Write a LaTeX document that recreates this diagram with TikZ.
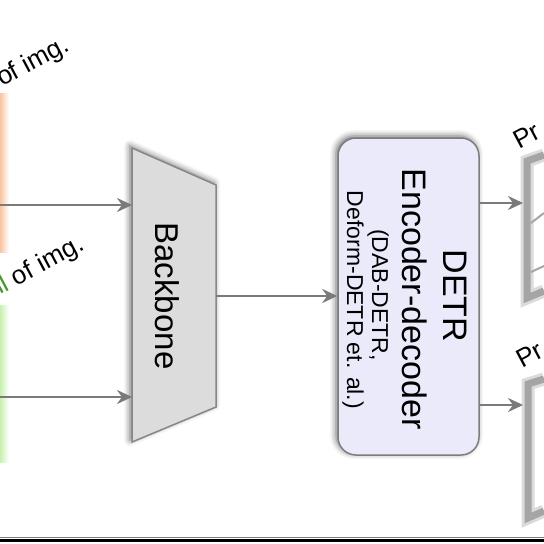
\documentclass[tikz,border=0pt]{standalone}
\usepackage{fontspec}
\setmainfont{Liberation Sans}
\usetikzlibrary{arrows.meta,shadows.blur}
\definecolor{arrgray}{RGB}{122,122,122}
\definecolor{bbfill}{RGB}{220,220,220}
\definecolor{bbdraw}{RGB}{135,135,135}
\definecolor{detrfill}{RGB}{235,234,250}
\definecolor{detrdraw}{RGB}{125,125,125}
\definecolor{imgorange}{RGB}{250,195,160}
\definecolor{imggreen}{RGB}{200,240,175}
\definecolor{txtgreen}{RGB}{70,150,40}
\definecolor{framegray}{RGB}{165,165,165}
\begin{document}
\begin{tikzpicture}[x=1pt,y=-1pt,
  arr/.style={draw=arrgray, line width=2.8pt, -{Stealth[length=15pt,width=14pt,inset=5pt,fill=arrgray]}},
  shad/.style={blur shadow={shadow xshift=-2pt, shadow yshift=2pt, shadow blur radius=6pt, shadow opacity=60}},
  bigtxt/.style={font=\fontsize{34}{40}\selectfont, inner sep=0pt},
  smalltxt/.style={font=\fontsize{23}{27}\selectfont, inner sep=0pt},
  slanttxt/.style={font=\fontsize{26}{30}\selectfont, inner sep=0pt, rotate=28, anchor=base west},
  framestyle/.style={draw=framegray, line width=7pt, line join=miter, preaction={draw=framegray!40, line width=13pt}},
]
\useasboundingbox (0,0) rectangle (544,544);
% coloured edges of the input images
\shade[left color=imgorange, right color=white] (0,93) rectangle (9,252);
\shade[left color=imggreen, right color=white] (0,305) rectangle (9,462);
% backbone
\filldraw[fill=bbfill, draw=bbdraw, line width=1.5pt, line join=miter, shad]
  (132,148) -- (216,185) -- (216,407) -- (132,442) -- cycle;
\coordinate (bbW) at (132,295);
\coordinate (bbE) at (216,296);
\node[font=\fontsize{33}{40}\selectfont, inner sep=0pt, rotate=-90] (bbtext) at (167.5,296) {Backbone};
% DETR box
\node[draw=detrdraw, fill=detrfill, line width=1.5pt, rounded corners=18pt,
      minimum width=141pt, minimum height=317pt, inner sep=0pt, shad] (detr) at (408.5,296.5) {};
\node[bigtxt, rotate=-90, anchor=base] (t1) at (443,296) {DETR};
\node[bigtxt, rotate=-90, anchor=base] (t2) at (402,299) {Encoder-decoder};
\node[smalltxt, rotate=-90, anchor=base] (t3) at (372,295) {(DAB-DETR,};
\node[smalltxt, rotate=-90, anchor=base] (t4) at (347,300) {Deform-DETR et. al.)};
% output frames
\draw[framestyle] (544,155) -- (527,161) -- (527,298) -- (544,291);
\draw[framegray, line width=2pt] (531,223) -- (544,213);
\draw[framegray, line width=2pt] (531,272) -- (544,266);
\draw[framestyle] (544,379) -- (528,384) -- (528,518) -- (544,511);
% connectors
\coordinate (in1) at (0,205);
\coordinate (in2) at (0,397);
\coordinate (p1) at (523,203);
\coordinate (p2) at (523,405);
\draw[arr] (in1) -- (in1 -| bbW);
\draw[arr] (in2) -- (in2 -| bbW);
\draw[arr] (bbE) -- (bbE -| detr.west);
\draw[arr] (p1 -| detr.east) -- (p1);
\draw[arr] (p2 -| detr.east) -- (p2);
% slanted labels
\node[slanttxt] (lt1) at (2,87) {of img.};
\node[slanttxt] (lt2) at (0,295) {\textcolor{txtgreen}{ll} of img.};
\node[slanttxt] (pr1) at (519,150) {Pr};
\node[slanttxt] (pr2) at (522,369) {Pr};
% bottom rule
\draw[arrgray, line width=1pt] (0,537.5) -- (544,537.5);
\draw[black, line width=3pt] (0,540.5) -- (544,540.5);
\end{tikzpicture}
\end{document}
